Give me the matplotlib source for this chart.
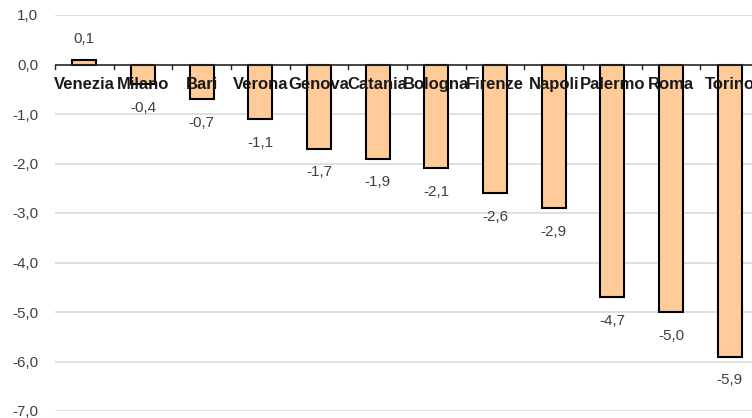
import numpy as np
import matplotlib.pyplot as plt

# Variazione per città
cities = ['Venezia', 'Milano', 'Bari', 'Verona', 'Genova', 'Catania',
          'Bologna', 'Firenze', 'Napoli', 'Palermo', 'Roma', 'Torino']
values = [0.1, -0.4, -0.7, -1.1, -1.7, -1.9, -2.1, -2.6, -2.9, -4.7, -5.0, -5.9]
y_ticks = [1, 0, -1, -2, -3, -4, -5, -6, -7]
y_labels = ['1,0', '0,0', '-1,0', '-2,0', '-3,0', '-4,0', '-5,0', '-6,0', '-7,0']

plt.rcParams['font.family'] = ['Liberation Sans', 'DejaVu Sans']

W, H = 752, 418
fig = plt.figure(figsize=(W / 100, H / 100), dpi=100)
# plot area runs a little past the right edge of the figure
left, right, top, bottom = 55, 759, 15, 411
ax = fig.add_axes([left / W, 1 - bottom / H, (right - left) / W, (bottom - top) / H])

x = np.arange(len(cities))
ax.bar(x, values, width=0.41, color='#FFCC99', edgecolor='black', linewidth=1.5, zorder=3)

ax.set_xlim(-0.5, len(cities) - 0.5)
ax.set_ylim(-7, 1)
ax.set_yticks(y_ticks)
ax.set_yticklabels(y_labels, fontsize=11, color='#404040')
ax.tick_params(axis='y', length=0, pad=12)
ax.set_xticks([])

for s in ax.spines.values():
    s.set_visible(False)

for t in y_ticks:
    if t != 0:
        ax.axhline(t, color='#d9d9d9', linewidth=1.2, zorder=1)
ax.axhline(0, color='#262626', linewidth=1.2, zorder=4)

# small tick marks on the zero line between categories
for b in np.arange(-0.5, len(cities), 1.0):
    ax.plot([b, b], [0, -0.1], color='#262626', linewidth=1, zorder=4, clip_on=False)

for xi, name, v in zip(x, cities, values):
    ax.text(xi, -0.25, name, ha='center', va='top', fontsize=12,
            fontweight='bold', color='#1a1a1a', zorder=5)
    if v >= 0:
        ax.text(xi, v + 0.28, f'{v:.1f}'.replace('.', ','), ha='center', va='bottom',
                fontsize=11, color='#404040', zorder=5)
    else:
        ax.text(xi, v - 0.34, f'{v:.1f}'.replace('.', ','), ha='center', va='top',
                fontsize=11, color='#404040', zorder=5)

fig.savefig('out.png', dpi=100)
